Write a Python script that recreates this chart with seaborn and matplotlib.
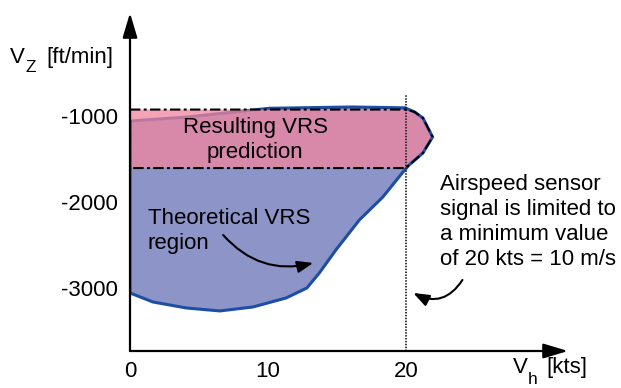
import matplotlib
matplotlib.use("Agg")
import matplotlib.pyplot as plt
import seaborn as sns
import pandas as pd
from matplotlib.patches import FancyArrowPatch

# ---- data ----
# Theoretical VRS region boundary (Vh [kts], Vz [ft/min])
theo_vh = [0, 4.1, 10.1, 16.1, 19.9, 20.6, 21.2, 21.9, 21.2, 20.2, 19.7, 18.3,
           16.6, 14.9, 13.7, 12.8, 11.3, 8.9, 6.5, 4.1, 1.66, 0]
theo_vz = [-1058, -1012, -910, -895, -905, -953, -1023, -1244, -1430, -1570,
           -1663, -1942, -2209, -2558, -2826, -3000, -3116, -3221, -3267,
           -3233, -3163, -3058]
# Resulting VRS prediction region
pred_vh = [0, 20, 20.6, 21.2, 21.9, 21.2, 20.2, 19.9, 0]
pred_vz = [-925, -925, -953, -1023, -1244, -1430, -1570, -1605, -1605]
# sensor limit
limit_vh = 20
limit_vz = [-3733, -756]
xticks = [0, 10, 20]
yticks = [-1000, -2000, -3000]
xlim = (0, 31.7)
ylim = (-3733, 198)

sns.set_theme(style="white")
plt.rcParams['font.family'] = ['Liberation Sans', 'DejaVu Sans']
plt.rcParams['text.color'] = 'black'
plt.rcParams['xtick.color'] = 'black'
plt.rcParams['ytick.color'] = 'black'

FS = 16
FSS = 12.5
fig = plt.figure(figsize=(6.21, 3.88), dpi=100)
ax = fig.add_axes([130/621, 1-351/388, 438/621, 338/388])
ax.set_xlim(*xlim)
ax.set_ylim(*ylim)
for s in ax.spines.values():
    s.set_visible(False)
ax.patch.set_alpha(0)

blue_fill = "#8C94C8"
blue_line = "#1D4EA6"
pink = (242/255, 134/255, 160/255)

# theoretical region fill
ax.fill(theo_vh, theo_vz, color=blue_fill, lw=0, zorder=1)

# outline: left part (under pink) and remaining part (over pink)
df_theo = pd.DataFrame({"vh": theo_vh, "vz": theo_vz})
left_part = df_theo.iloc[0:3]
rest = pd.concat([df_theo.iloc[2:], df_theo.iloc[0:1]])
sns.lineplot(data=left_part, x="vh", y="vz", sort=False, ax=ax, color=blue_line,
             lw=2.2, zorder=1.5, estimator=None)
sns.lineplot(data=rest, x="vh", y="vz", sort=False, ax=ax, color=blue_line,
             lw=2.2, zorder=3, estimator=None)

# prediction region
ax.fill(pred_vh, pred_vz, color=pink, alpha=0.75, lw=0, zorder=2)
ax.plot(pred_vh + [pred_vh[0]], pred_vz + [pred_vz[0]], color="black", lw=1.5,
        linestyle=(0, (5, 1.6, 1.4, 1.6)), zorder=4)

# sensor limit dotted line
ax.plot([limit_vh, limit_vh], limit_vz, color="#222222", lw=1.3,
        linestyle=(0, (0.8, 0.8)), zorder=4)

# ticks
ax.set_xticks(xticks)
ax.set_xticklabels([str(t) for t in xticks], fontsize=FS)
ax.set_yticks(yticks)
ax.set_yticklabels([str(t) for t in yticks], fontsize=FS)
ax.tick_params(axis='x', length=0, pad=7)
ax.tick_params(axis='y', length=0, pad=9)
ax.set_xlabel("")
ax.set_ylabel("")

# axes arrows
for end in [(0, 1), (1, 0)]:
    arr = FancyArrowPatch((0, 0), end, transform=ax.transAxes,
                          arrowstyle="-|>,head_length=1.5,head_width=0.45",
                          mutation_scale=10, color="black", lw=1.6,
                          shrinkA=0, shrinkB=0, clip_on=False, zorder=6)
    ax.add_patch(arr)

# texts
ax.text(9.06, -1279, "Resulting VRS\nprediction", ha="center", va="center",
        fontsize=FS, linespacing=1.2, zorder=5)
ax.text(1.3, -2337, "Theoretical VRS\nregion", ha="left", va="center",
        fontsize=FS, linespacing=1.25, zorder=5)
ax.text(22.4, -2233, "Airspeed sensor\nsignal is limited to\na minimum value\nof 20 kts = 10 m/s",
        ha="left", va="center", fontsize=FS, linespacing=1.25, zorder=5, clip_on=False)

ax.annotate("", xy=(13.26, -2709), xytext=(6.74, -2384),
            arrowprops=dict(arrowstyle="-|>,head_length=0.8,head_width=0.3",
                            connectionstyle="arc3,rad=0.3", color="black", lw=1.5,
                            shrinkA=0, shrinkB=0, mutation_scale=12), zorder=5)
ax.annotate("", xy=(20.5, -3058), xytext=(24.06, -2907),
            arrowprops=dict(arrowstyle="-|>,head_length=0.8,head_width=0.3",
                            connectionstyle="arc3,rad=-0.45", color="black", lw=1.5,
                            shrinkA=0, shrinkB=0, mutation_scale=12), zorder=5)

# axis labels (manual subscripts)
def ptext(x, y, s, size):
    fig.text(x/621, 1-y/388, s, fontsize=size, ha="left", va="baseline")

ptext(10, 63, "V", FS)
ptext(25, 72, "Z", FSS)
ptext(46, 63, "[ft/min]", FS)
ptext(513, 373, "V", FS)
ptext(528, 384, "h", FSS)
ptext(546, 373, "[kts]", FS)

fig.savefig("out.png", dpi=100)
